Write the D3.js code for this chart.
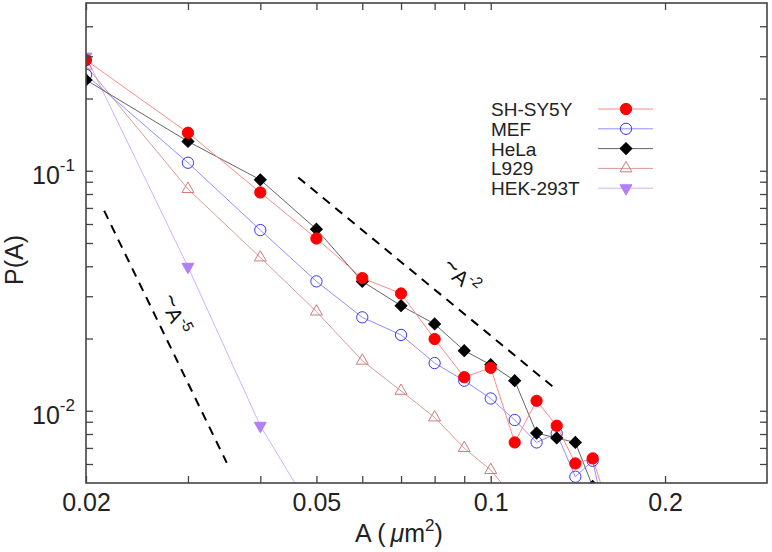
<!DOCTYPE html>
<html><head><meta charset="utf-8">
<script src="https://cdn.jsdelivr.net/npm/d3@7"></script>
<style>
html,body{margin:0;padding:0;background:#fff;}
svg{display:block;font-family:"Liberation Sans",Arial,sans-serif;}
</style></head>
<body>
<svg id="chart" width="772" height="552"></svg>
<script>
// ---- data ----
const areas = [0.02,0.03,0.04,0.05,0.06,0.07,0.08,0.09,0.10,0.11,0.12,0.13,0.14,0.15,0.16];
const shsy5y = [0.289,0.144,0.0812,0.0522,0.0357,0.0308,0.0199,0.0138,0.0151,0.00738,0.0110,0.00866,0.00603,0.00633,0.0039];
const mef    = [0.251,0.108,0.0566,0.0346,0.0245,0.0207,0.0158,0.01334,0.01125,0.00915,0.00738,0.00804,0.00531,0.00619,0.00305];
const hela   = [0.239,0.1325,0.0917,0.0571,0.0346,0.0274,0.0230,0.0178,0.01555,0.01334,0.00807,0.0077,0.00738,0.00484];
const l929   = [0.274,0.0839,0.0435,0.0259,0.01616,0.0121,0.00938,0.00699,0.00566,0.0043];
const hek293t= [0.299,0.0398,0.00866,0.00355];
const seriesNames = ["SH-SY5Y","MEF","HeLa","L929","HEK-293T"];
const xTicks = [0.02,0.03,0.04,0.05,0.06,0.07,0.08,0.09,0.1,0.2];
const xTickLabels = {0.02:"0.02",0.05:"0.05",0.1:"0.1",0.2:"0.2"};
const yTicks = [0.006,0.007,0.008,0.009,0.01,0.02,0.03,0.04,0.05,0.06,0.07,0.08,0.09,0.1,0.2,0.3,0.4];
const yTickLabels = [[0.1,"-1"],[0.01,"-2"]];
const guideSlope2 = [[0.0465,0.0938],[0.1295,0.01231]];
const guideSlope5 = [[0.0215,0.0681],[0.035,0.00607]];

// ---- layout ----
const L=86,T=3,R=767,B=483;
const svg = d3.select("#chart");
const x = d3.scaleLog().domain([0.02,0.3]).range([L,R]);
const y = d3.scaleLog().domain([0.005,0.5]).range([B,T]);
const FONT = '"Liberation Sans",Arial,sans-serif';

const styles = [
  {line:"#ff8a8a", sym:"circle", fill:"#ff0000", stroke:"#ff0000", size:100},
  {line:"#8f8fff", sym:"circle", fill:"none", stroke:"#3535ff", size:100},
  {line:"#666666", sym:"diamond", fill:"#000", stroke:"#000", size:70},
  {line:"#d99a9a", sym:"triup", fill:"none", stroke:"#d07a7a", size:62},
  {line:"#cfb2fb", sym:"tridown", fill:"#b27ff5", stroke:"#b27ff5", size:62}
];
const data = [shsy5y, mef, hela, l929, hek293t];

function symPath(s){
  if(s.sym==="circle") return d3.symbol(d3.symbolCircle, s.size)();
  if(s.sym==="diamond") return d3.symbol(d3.symbolSquare, s.size)();
  return d3.symbol(d3.symbolTriangle, s.size)();
}
function symRot(s){
  if(s.sym==="diamond") return 45;
  if(s.sym==="tridown") return 180;
  return 0;
}

svg.append("defs").append("clipPath").attr("id","clip")
  .append("rect").attr("x",L).attr("y",T).attr("width",R-L).attr("height",B-T);

const plot = svg.append("g").attr("clip-path","url(#clip)");

// guide lines
const lineGen = d3.line().x(d=>x(d[0])).y(d=>y(d[1]));
[guideSlope2, guideSlope5].forEach(g=>{
  plot.append("path").attr("d", lineGen(g)).attr("fill","none")
    .attr("stroke","#000").attr("stroke-width",2).attr("stroke-dasharray","9,7");
});

// series lines & markers (draw in reverse so red is on top)
const order = [4,3,1,2,0];
order.forEach(i=>{
  const pts = data[i].map((v,j)=>[areas[j], v]);
  plot.append("path").attr("d", lineGen(pts)).attr("fill","none")
    .attr("stroke", styles[i].line).attr("stroke-width",1);
});
order.forEach(i=>{
  const s = styles[i];
  const pts = data[i].map((v,j)=>[areas[j], v]);
  plot.selectAll(null).data(pts).enter().append("path")
    .attr("d", symPath(s))
    .attr("transform", d=>`translate(${x(d[0])},${y(d[1])}) rotate(${symRot(s)})`)
    .attr("fill", s.fill).attr("stroke", s.stroke).attr("stroke-width",1);
});

// axes ticks
const tickStyle = g => { g.select(".domain").remove(); g.selectAll(".tick line").attr("stroke","#444").attr("stroke-width",1.3); };
svg.append("g").attr("transform",`translate(0,${B})`)
  .call(d3.axisBottom(x).tickValues(xTicks).tickSize(-7).tickPadding(10)
    .tickFormat(d=>xTickLabels[d] || ""))
  .call(tickStyle)
  .call(g=>g.selectAll("text").attr("font-size",25).attr("font-family",FONT).attr("fill","#222"));
svg.append("g").attr("transform",`translate(0,${T})`)
  .call(d3.axisTop(x).tickValues(xTicks).tickSize(-7).tickFormat(""))
  .call(tickStyle);
svg.append("g").attr("transform",`translate(${L},0)`)
  .call(d3.axisLeft(y).tickValues(yTicks).tickSize(-7).tickFormat(""))
  .call(tickStyle);
svg.append("g").attr("transform",`translate(${R},0)`)
  .call(d3.axisRight(y).tickValues(yTicks).tickSize(-7).tickFormat(""))
  .call(tickStyle);

// frame
svg.append("rect").attr("x",L).attr("y",T).attr("width",R-L).attr("height",B-T)
  .attr("fill","none").attr("stroke","#444").attr("stroke-width",1.6);

// y tick labels with superscripts
yTickLabels.forEach(([v,e])=>{
  const t = svg.append("text").attr("x",32).attr("y",y(v)+13.5)
    .attr("font-size",25).attr("fill","#222").attr("font-family",FONT);
  t.append("tspan").text("10");
  t.append("tspan").attr("font-size",17).attr("dy",-13.5).text(e);
});

// axis titles
const xt = svg.append("text").attr("x",355).attr("y",542).attr("font-size",25)
  .attr("fill","#222").attr("font-family",FONT);
xt.append("tspan").text("A (");
xt.append("tspan").attr("font-style","italic").attr("dx",5).text("μ");
xt.append("tspan").text("m");
xt.append("tspan").attr("font-size",17).attr("dy",-11).text("2");
xt.append("tspan").attr("dy",11).text(")");

svg.append("text").attr("transform","translate(23,260) rotate(-90)")
  .attr("text-anchor","middle").attr("font-size",25).attr("fill","#222")
  .attr("font-family",FONT).text("P(A)");

// slope annotations
function slopeLabel(cx,cy,ang,exp){
  const t = svg.append("text").attr("transform",`translate(${cx},${cy}) rotate(${ang})`)
    .attr("text-anchor","middle").attr("dy","0.35em").attr("font-size",21)
    .attr("fill","#111").attr("font-family",FONT);
  t.append("tspan").attr("font-size",24).attr("dy",-3).text("~");
  t.append("tspan").attr("dy",3).text("A");
  t.append("tspan").attr("font-size",15).attr("dy",-9).text(exp);
}
slopeLabel(456,283,39,"-2");
slopeLabel(168,318,64,"-5");

// legend
const lg = svg.append("g");
seriesNames.forEach((name,i)=>{
  const cy = 109 + i*19.8;
  const s = styles[i];
  lg.append("text").attr("x",491).attr("y",cy+7).attr("font-size",19)
    .attr("fill","#222").attr("font-family",FONT).text(name);
  lg.append("line").attr("x1",598).attr("x2",653).attr("y1",cy).attr("y2",cy)
    .attr("stroke", s.line).attr("stroke-width",1);
  lg.append("path").attr("d", symPath(s))
    .attr("transform",`translate(626,${cy}) rotate(${symRot(s)})`)
    .attr("fill", s.fill).attr("stroke", s.stroke).attr("stroke-width",1);
});
</script>
</body></html>
